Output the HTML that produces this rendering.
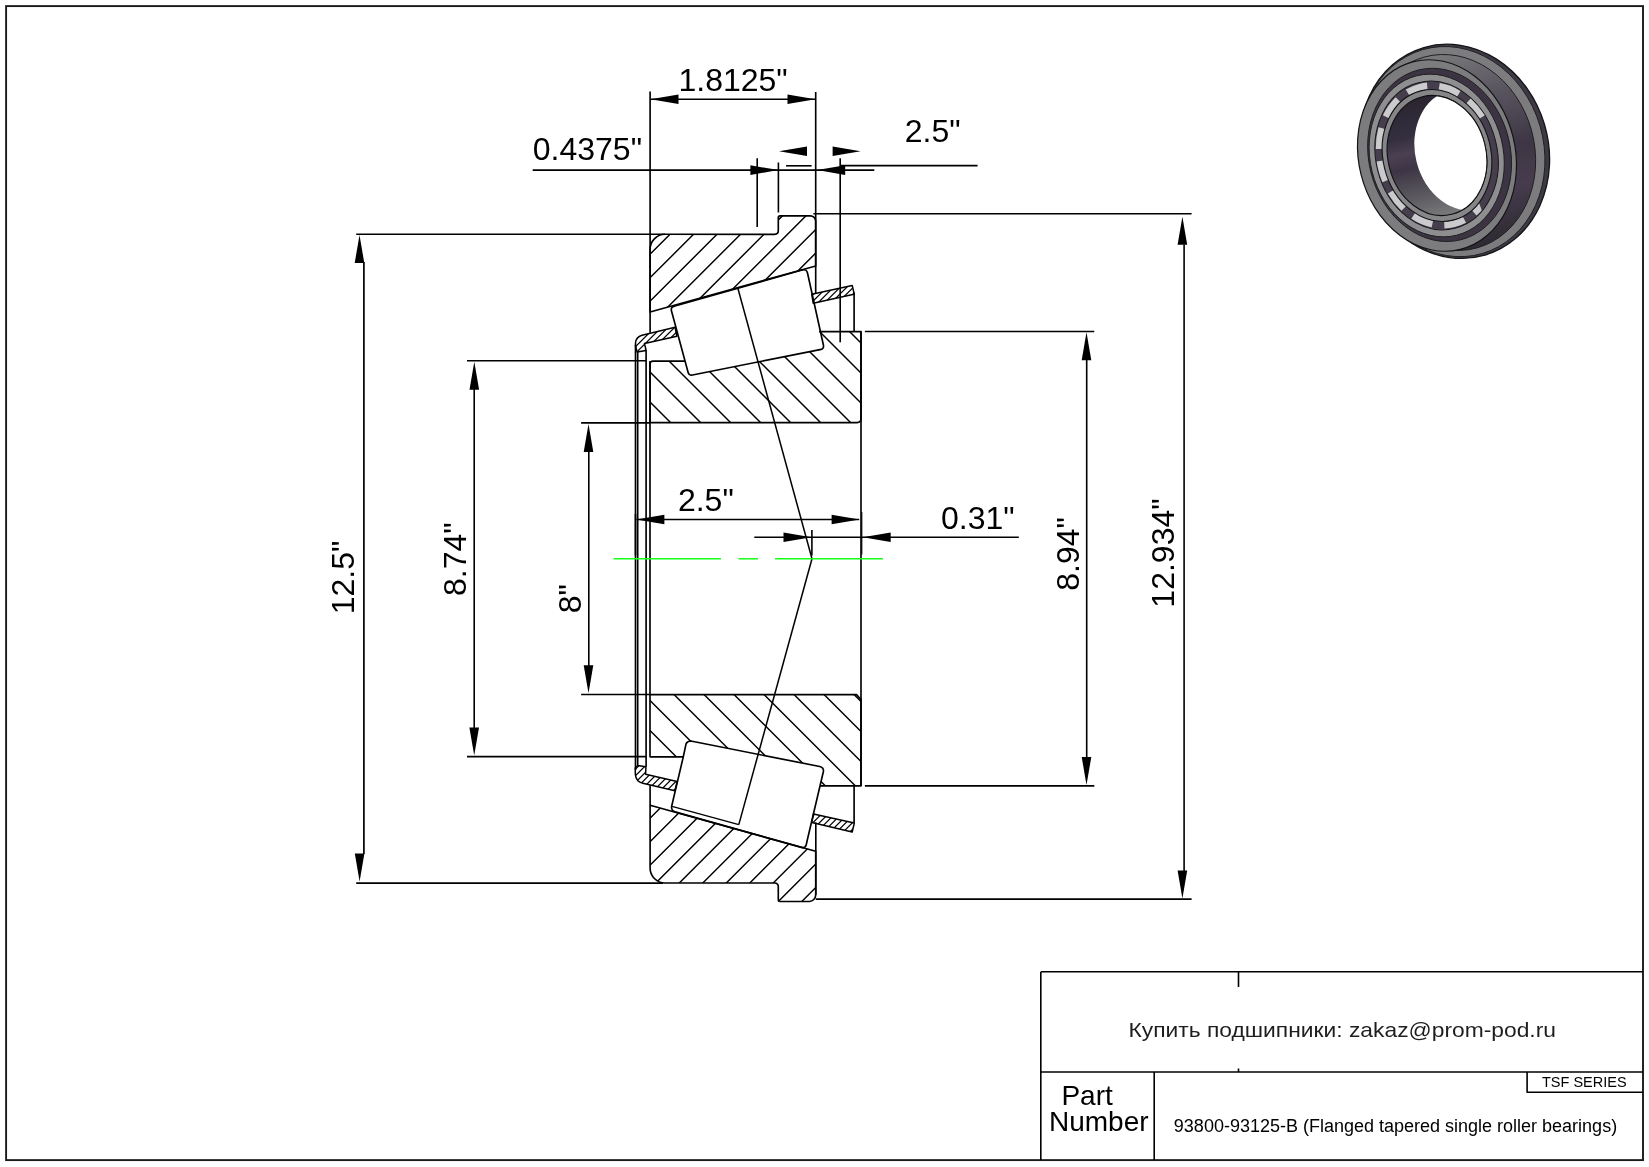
<!DOCTYPE html>
<html><head><meta charset="utf-8"><style>
html,body{margin:0;padding:0;background:#fff;}
svg{display:block;will-change:transform;}
text{font-family:"Liberation Sans",sans-serif;}
</style></head><body>
<svg width="1649" height="1167" viewBox="0 0 1649 1167">
<rect width="1649" height="1167" fill="#fff"/>
<rect x="6.1" y="6.1" width="1636.9" height="1154" fill="none" stroke="#1a1a1a" stroke-width="1.9"/>
<line x1="1041" y1="971.7" x2="1643" y2="971.7" stroke="#000" stroke-width="1.6"/>
<line x1="1040.8" y1="971.7" x2="1040.8" y2="1160" stroke="#000" stroke-width="1.6"/>
<line x1="1041" y1="1072" x2="1643" y2="1072" stroke="#000" stroke-width="1.6"/>
<line x1="1154.2" y1="1072" x2="1154.2" y2="1160" stroke="#000" stroke-width="1.6"/>
<line x1="1238.5" y1="971" x2="1238.5" y2="987" stroke="#000" stroke-width="1.6"/>
<line x1="1238.5" y1="1068.5" x2="1238.5" y2="1072" stroke="#000" stroke-width="1.6"/>
<path d="M1527.1 1072V1092.3H1643" fill="none" stroke="#000" stroke-width="1.6" stroke-linejoin="round"/>
<clipPath id="h1"><path d="M650.1 312 L650.1 249.5 A15 15 0 0 1 665 234.3 L774.5 234.3 Q778.3 234.3 778.3 230.5 L778.3 217.5 Q778.3 215.8 780 215.8 L810.3 215.8 A5.4 5.4 0 0 1 815.7 221.2 L815.7 266 Z"/></clipPath>
<path clip-path="url(#h1)" d="M537.30 320L647.30 210M560.80 320L670.80 210M584.30 320L694.30 210M607.80 320L717.80 210M631.30 320L741.30 210M654.80 320L764.80 210M678.30 320L788.30 210M701.80 320L811.80 210M725.30 320L835.30 210M748.80 320L858.80 210M772.30 320L882.30 210M795.80 320L905.80 210M819.30 320L929.30 210" stroke="#000" stroke-width="1.45" fill="none"/>
<path d="M650.1 312 L650.1 249.5 A15 15 0 0 1 665 234.3 L774.5 234.3 Q778.3 234.3 778.3 230.5 L778.3 217.5 Q778.3 215.8 780 215.8 L810.3 215.8 A5.4 5.4 0 0 1 815.7 221.2 L815.7 266 Z" fill="none" stroke="#000" stroke-width="1.65" stroke-linejoin="round"/>
<clipPath id="h2"><path d="M650.1 805.3 L650.1 867.8 A15 15 0 0 0 665 883.0 L774.5 883.0 Q778.3 883.0 778.3 886.8 L778.3 899.8 Q778.3 901.5 780 901.5 L809.4 901.5 A6.5 6.5 0 0 0 815.7 895.0 L815.7 851.3 Z"/></clipPath>
<path clip-path="url(#h2)" d="M563.30 905L668.30 800M586.80 905L691.80 800M610.30 905L715.30 800M633.80 905L738.80 800M657.30 905L762.30 800M680.80 905L785.80 800M704.30 905L809.30 800M727.80 905L832.80 800M751.30 905L856.30 800M774.80 905L879.80 800M798.30 905L903.30 800" stroke="#000" stroke-width="1.45" fill="none"/>
<path d="M650.1 805.3 L650.1 867.8 A15 15 0 0 0 665 883.0 L774.5 883.0 Q778.3 883.0 778.3 886.8 L778.3 899.8 Q778.3 901.5 780 901.5 L809.4 901.5 A6.5 6.5 0 0 0 815.7 895.0 L815.7 851.3 Z" fill="none" stroke="#000" stroke-width="1.65" stroke-linejoin="round"/>
<clipPath id="h3"><path d="M650 422.6 L650 364 Q650 361.1 653 361.1 L684.9 361.1 L688.6 375.6 L823.3 348.8 L819.2 331.6 L861 331.6 L861 418.6 Q861 422.6 857 422.6 Z"/></clipPath>
<path clip-path="url(#h3)" d="M573.00 325L673.00 425M603.00 325L703.00 425M633.00 325L733.00 425M663.00 325L763.00 425M693.00 325L793.00 425M723.00 325L823.00 425M753.00 325L853.00 425M783.00 325L883.00 425M813.00 325L913.00 425M843.00 325L943.00 425" stroke="#000" stroke-width="1.45" fill="none"/>
<path d="M684.9 361.1 L653 361.1 Q650 361.1 650 364 L650 422.6 L857 422.6 Q861 422.6 861 418.6 L861 331.6 L819.2 331.6" fill="none" stroke="#000" stroke-width="1.65" stroke-linejoin="round"/>
<clipPath id="h4"><path d="M650 694.6 L857 694.6 L861 699.5 L861 785.9 L820.1 785.9 L823.4 770.3 L819.7 766.5 L690.8 741 L686 744.1 L683.3 756.8 L650 756.8 Z"/></clipPath>
<path clip-path="url(#h4)" d="M549.50 690L649.50 790M579.50 690L679.50 790M609.50 690L709.50 790M639.50 690L739.50 790M669.50 690L769.50 790M699.50 690L799.50 790M729.50 690L829.50 790M759.50 690L859.50 790M789.50 690L889.50 790M819.50 690L919.50 790M849.50 690L949.50 790" stroke="#000" stroke-width="1.45" fill="none"/>
<path d="M683.3 756.8 L650 756.8 L650 694.6 L856.5 694.6 L861 699.5 L861 785.9 L820.1 785.9" fill="none" stroke="#000" stroke-width="1.65" stroke-linejoin="round"/>
<path d="M675 306 L802 270 Q806.5 268.8 807.5 273 L823.4 345 Q824.2 349 820 349.6 L692.5 375 Q688.8 375.8 688 372 L671.5 311 Q670.5 307 674.5 306.1 Z" fill="none" stroke="#000" stroke-width="1.65" stroke-linejoin="round"/>
<path d="M690.8 741 L819.7 766.5 Q824 767.6 823.4 771.5 L807.3 840 L806.3 844.5 Q805.3 848.2 802.3 847.6 L675 811.9 Q671.2 810.6 671.6 806.5 L683.3 756.8 L686 744.1 Q687 741 690.8 741 Z" fill="none" stroke="#000" stroke-width="1.65" stroke-linejoin="round"/>
<line x1="672" y1="806.4" x2="738.8" y2="824.6" stroke="#000" stroke-width="1.5"/>
<line x1="737.8" y1="288" x2="812" y2="558.8" stroke="#000" stroke-width="1.5"/>
<line x1="812" y1="558.8" x2="738.8" y2="824.6" stroke="#000" stroke-width="1.5"/>
<clipPath id="h5"><path d="M675.1 327.3 L642 335.3 Q636 337 635.5 343 L635.5 346 L637.1 352 L646.1 350.5 L644.5 343.5 L676.9 336.3 Z"/></clipPath>
<path clip-path="url(#h5)" d="M595.80 360L635.80 320M602.40 360L642.40 320M609.00 360L649.00 320M615.60 360L655.60 320M622.20 360L662.20 320M628.80 360L668.80 320M635.40 360L675.40 320M642.00 360L682.00 320M648.60 360L688.60 320M655.20 360L695.20 320M661.80 360L701.80 320M668.40 360L708.40 320M675.00 360L715.00 320" stroke="#000" stroke-width="1.2" fill="none"/>
<path d="M675.1 327.3 L642 335.3 Q636 337 635.5 343 L635.5 346 L637.1 352 L646.1 350.5 L644.5 343.5 L676.9 336.3 Z" fill="none" stroke="#000" stroke-width="1.5" stroke-linejoin="round"/>
<clipPath id="h6"><path d="M811.8 294.3 L852.2 285.4 L853.9 292.6 L853.9 294.3 L813.2 303.2 Z"/></clipPath>
<path clip-path="url(#h6)" d="M777.80 310L807.80 280M784.40 310L814.40 280M791.00 310L821.00 280M797.60 310L827.60 280M804.20 310L834.20 280M810.80 310L840.80 280M817.40 310L847.40 280M824.00 310L854.00 280M830.60 310L860.60 280M837.20 310L867.20 280M843.80 310L873.80 280M850.40 310L880.40 280M857.00 310L887.00 280" stroke="#000" stroke-width="1.2" fill="none"/>
<path d="M811.8 294.3 L852.2 285.4 L853.9 292.6 L853.9 294.3 L813.2 303.2 Z" fill="none" stroke="#000" stroke-width="1.5" stroke-linejoin="round"/>
<clipPath id="h7"><path d="M677.1 781.5 L645.6 774.3 L645.9 766.7 L637.7 765.4 L635.3 768 L635.3 774.3 Q636 782 642.8 783.2 L675 790.7 Z"/></clipPath>
<path clip-path="url(#h7)" d="M596.40 795L631.40 760M603.00 795L638.00 760M609.60 795L644.60 760M616.20 795L651.20 760M622.80 795L657.80 760M629.40 795L664.40 760M636.00 795L671.00 760M642.60 795L677.60 760M649.20 795L684.20 760M655.80 795L690.80 760M662.40 795L697.40 760M669.00 795L704.00 760M675.60 795L710.60 760" stroke="#000" stroke-width="1.2" fill="none"/>
<path d="M677.1 781.5 L645.6 774.3 L645.9 766.7 L637.7 765.4 L635.3 768 L635.3 774.3 Q636 782 642.8 783.2 L675 790.7 Z" fill="none" stroke="#000" stroke-width="1.5" stroke-linejoin="round"/>
<clipPath id="h8"><path d="M813.5 814.1 L854.3 823.1 L852.2 832 L811.8 822.4 Z"/></clipPath>
<path clip-path="url(#h8)" d="M780.80 835L805.80 810M787.40 835L812.40 810M794.00 835L819.00 810M800.60 835L825.60 810M807.20 835L832.20 810M813.80 835L838.80 810M820.40 835L845.40 810M827.00 835L852.00 810M833.60 835L858.60 810M840.20 835L865.20 810M846.80 835L871.80 810M853.40 835L878.40 810M860.00 835L885.00 810" stroke="#000" stroke-width="1.2" fill="none"/>
<path d="M813.5 814.1 L854.3 823.1 L852.2 832 L811.8 822.4 Z" fill="none" stroke="#000" stroke-width="1.5" stroke-linejoin="round"/>
<line x1="635.5" y1="345" x2="635.5" y2="770" stroke="#000" stroke-width="1.65"/>
<line x1="637.7" y1="352" x2="637.7" y2="765.4" stroke="#000" stroke-width="1.65"/>
<line x1="646.1" y1="350.5" x2="646.1" y2="766.7" stroke="#000" stroke-width="1.65"/>
<line x1="650.1" y1="91.5" x2="650.1" y2="332.7" stroke="#000" stroke-width="1.65"/>
<line x1="650" y1="361" x2="650" y2="694.6" stroke="#000" stroke-width="1.65"/>
<line x1="815.7" y1="92" x2="815.7" y2="293.5" stroke="#000" stroke-width="1.65"/>
<line x1="815.8" y1="822.4" x2="815.8" y2="894.8" stroke="#000" stroke-width="1.65"/>
<line x1="840.2" y1="158.3" x2="840.2" y2="342.3" stroke="#000" stroke-width="1.65"/>
<line x1="854.1" y1="292.6" x2="854.1" y2="331.6" stroke="#000" stroke-width="1.65"/>
<line x1="854.1" y1="785.9" x2="854.1" y2="823.1" stroke="#000" stroke-width="1.65"/>
<line x1="861" y1="331.6" x2="861" y2="785.9" stroke="#000" stroke-width="1.65"/>
<line x1="650.1" y1="785.2" x2="650.1" y2="805.2" stroke="#000" stroke-width="1.65"/>
<line x1="650.3" y1="99.3" x2="815.6" y2="99.3" stroke="#000" stroke-width="1.6"/>
<polygon points="650.5,99.3 678.5,94.5 678.5,104.1" fill="#000"/>
<polygon points="815.5,99.3 787.5,94.5 787.5,104.1" fill="#000"/>
<line x1="532.7" y1="170.1" x2="874.3" y2="170.1" stroke="#000" stroke-width="1.6"/>
<polygon points="778.4,170.1 750.4,165.29999999999998 750.4,174.9" fill="#000"/>
<polygon points="817.2,170.1 845.2,165.29999999999998 845.2,174.9" fill="#000"/>
<line x1="757.2" y1="158.3" x2="757.2" y2="227.1" stroke="#000" stroke-width="1.6"/>
<line x1="778.4" y1="162.5" x2="778.4" y2="212.5" stroke="#000" stroke-width="1.6"/>
<line x1="786.1" y1="165.8" x2="811.6" y2="165.8" stroke="#000" stroke-width="1.6"/>
<line x1="840.2" y1="165.6" x2="977.6" y2="165.6" stroke="#000" stroke-width="1.6"/>
<polygon points="779,151.2 807.0,146.39999999999998 807.0,156.0" fill="#000"/>
<polygon points="860.6,151.2 832.6,146.39999999999998 832.6,156.0" fill="#000"/>
<line x1="813.4" y1="213.7" x2="1191.6" y2="213.7" stroke="#000" stroke-width="1.6"/>
<line x1="815.8" y1="899.1" x2="1191.6" y2="899.1" stroke="#000" stroke-width="1.6"/>
<line x1="1184.1" y1="244.6" x2="1184.1" y2="871" stroke="#000" stroke-width="1.6"/>
<polygon points="1182.4,216.7 1177.6000000000001,244.7 1187.2,244.7" fill="#000"/>
<polygon points="1182.4,898.5 1177.6000000000001,870.5 1187.2,870.5" fill="#000"/>
<line x1="356.2" y1="234.3" x2="665" y2="234.3" stroke="#000" stroke-width="1.6"/>
<line x1="356.2" y1="883.1" x2="663" y2="883.1" stroke="#000" stroke-width="1.6"/>
<line x1="363.9" y1="262" x2="363.9" y2="854" stroke="#000" stroke-width="1.7"/>
<polygon points="359.5,235 354.7,263.0 364.3,263.0" fill="#000"/>
<polygon points="359.6,881.6 354.8,853.6 364.40000000000003,853.6" fill="#000"/>
<line x1="467" y1="360.8" x2="646" y2="360.8" stroke="#000" stroke-width="1.6"/>
<line x1="467" y1="756.6" x2="646" y2="756.6" stroke="#000" stroke-width="1.6"/>
<line x1="474.2" y1="389" x2="474.2" y2="728.5" stroke="#000" stroke-width="1.6"/>
<polygon points="474.3,361.7 469.5,389.7 479.1,389.7" fill="#000"/>
<polygon points="474.2,755.4 469.4,727.4 479.0,727.4" fill="#000"/>
<line x1="581.1" y1="422.9" x2="650" y2="422.9" stroke="#000" stroke-width="1.6"/>
<line x1="581.1" y1="694.5" x2="650" y2="694.5" stroke="#000" stroke-width="1.6"/>
<line x1="588.8" y1="451" x2="588.8" y2="666.5" stroke="#000" stroke-width="1.6"/>
<polygon points="588.5,423.9 583.7,451.9 593.3,451.9" fill="#000"/>
<polygon points="588.5,693.3 583.7,665.3 593.3,665.3" fill="#000"/>
<line x1="864.9" y1="331.5" x2="1094.3" y2="331.5" stroke="#000" stroke-width="1.6"/>
<line x1="864.9" y1="785.9" x2="1094.3" y2="785.9" stroke="#000" stroke-width="1.6"/>
<line x1="1086.7" y1="360" x2="1086.7" y2="757" stroke="#000" stroke-width="1.6"/>
<polygon points="1086.5,332.3 1081.7,360.3 1091.3,360.3" fill="#000"/>
<polygon points="1086.5,785 1081.7,757.0 1091.3,757.0" fill="#000"/>
<line x1="636.4" y1="519.5" x2="859.2" y2="519.5" stroke="#000" stroke-width="1.6"/>
<polygon points="636.4,519.5 664.4,514.7 664.4,524.3" fill="#000"/>
<polygon points="859.6,519.5 831.6,514.7 831.6,524.3" fill="#000"/>
<line x1="635.5" y1="513.7" x2="635.5" y2="555.5" stroke="#000" stroke-width="1.6"/>
<line x1="754.3" y1="537.3" x2="1018.8" y2="537.3" stroke="#000" stroke-width="1.6"/>
<polygon points="811.5,537.3 783.5,532.5 783.5,542.0999999999999" fill="#000"/>
<polygon points="862.7,537.3 890.7,532.5 890.7,542.0999999999999" fill="#000"/>
<line x1="811.9" y1="530" x2="811.9" y2="555.5" stroke="#000" stroke-width="1.6"/>
<line x1="861.8" y1="512" x2="861.8" y2="554.6" stroke="#000" stroke-width="1.1"/>
<line x1="613.6" y1="558.8" x2="721" y2="558.8" stroke="#18ff18" stroke-width="1.5"/>
<line x1="738.5" y1="558.8" x2="758" y2="558.8" stroke="#18ff18" stroke-width="1.5"/>
<line x1="775" y1="558.8" x2="882.9" y2="558.8" stroke="#18ff18" stroke-width="1.5"/>
<g font-family="&quot;Liberation Sans&quot;, sans-serif" fill="#000">
<text x="678.4625" y="91.1" font-size="32" text-anchor="start" >1.8125"</text>
<text x="532.75" y="159.8" font-size="32" text-anchor="start" >0.4375"</text>
<text x="904.690625" y="141.6" font-size="32" text-anchor="start" >2.5"</text>
<text x="677.890625" y="510.9" font-size="32" text-anchor="start" >2.5"</text>
<text x="941.05" y="529.2" font-size="32" text-anchor="start" >0.31"</text>
<text transform="translate(353.7,614.3375) rotate(-90)" font-size="32" >12.5"</text>
<text transform="translate(466.4,595.990625) rotate(-90)" font-size="32" >8.74"</text>
<text transform="translate(580.5,613.290625) rotate(-90)" font-size="32" >8"</text>
<text transform="translate(1079.3,590.690625) rotate(-90)" font-size="32" >8.94"</text>
<text transform="translate(1174.1,607.6375) rotate(-90)" font-size="32" >12.934"</text>
<text x="1061.403125" y="1104.6" font-size="28" text-anchor="start" >Part</text>
<text x="1049.003125" y="1131.2" font-size="28" text-anchor="start" >Number</text>
<text x="1173.85625" y="1131.6" font-size="18" text-anchor="start" >93800-93125-B (Flanged tapered single roller bearings)</text>
<text x="1541.97431640625" y="1086.8" font-size="14.5" text-anchor="start" >TSF SERIES</text>
<text x="1128.5" y="1036.8" font-size="19.8" textLength="427.5" lengthAdjust="spacingAndGlyphs" fill="#1e1e1e">Купить подшипники: zakaz@prom-pod.ru</text>
</g>
<defs><linearGradient id="gbore" x1="0" y1="0" x2="0" y2="1"><stop offset="0" stop-color="#2a2530"/><stop offset="0.3" stop-color="#353040"/><stop offset="0.42" stop-color="#4a4052"/><stop offset="0.55" stop-color="#3d3545"/><stop offset="0.78" stop-color="#5a585e"/><stop offset="1" stop-color="#7a7a7c"/></linearGradient><linearGradient id="gcyl" x1="0" y1="0" x2="0" y2="1"><stop offset="0" stop-color="#7a7a7c"/><stop offset="0.25" stop-color="#5a5660"/><stop offset="0.55" stop-color="#3e3644"/><stop offset="0.75" stop-color="#463c4e"/><stop offset="1" stop-color="#2e2a32"/></linearGradient><clipPath id="cbb"><ellipse cx="1464.80" cy="149.80" rx="49.73" ry="61.40" transform="rotate(-14 1464.80 149.80)" fill="none" stroke="#18181a" stroke-width="1.0" /></clipPath><clipPath id="cwin"><path d="M1340 30H1500L1488 95L1478 200L1500 260H1340Z"/></clipPath></defs>
<ellipse cx="1454.4" cy="151.3" rx="94" ry="108.2" transform="rotate(-16.4 1454.4 151.3)" fill="#3e3844" stroke="#141416" stroke-width="1.3"/>
<ellipse cx="1452.4" cy="151.6" rx="91.3" ry="106.2" transform="rotate(-16.4 1452.4 151.6)" fill="#7c7c7e" stroke="#1e1e20" stroke-width="0.9"/>
<ellipse cx="1450.5" cy="152.5" rx="84" ry="99" transform="rotate(-15.5 1450.5 152.5)" fill="url(#gcyl)" stroke="#1e1e20" stroke-width="0.9"/>
<ellipse cx="1437.00" cy="155.50" rx="78.33" ry="96.70" transform="rotate(-14 1437.00 155.50)" fill="#7c7c7e" stroke="#141416" stroke-width="1.2" />
<ellipse cx="1439.60" cy="154.90" rx="70.88" ry="87.50" transform="rotate(-14 1439.60 154.90)" fill="#3c3442" stroke="#1e1e20" stroke-width="0.9" />
<ellipse cx="1436.70" cy="155.50" rx="66.58" ry="82.20" transform="rotate(-14 1436.70 155.50)" fill="#8e8e90" stroke="#1e1e20" stroke-width="0.9" />
<ellipse cx="1436.60" cy="155.50" rx="60.75" ry="75.00" transform="rotate(-14 1436.60 155.50)" fill="#463e4c" stroke="#18181a" stroke-width="1.0" />
<g clip-path="url(#cwin)"><ellipse cx="1437.00" cy="155.50" rx="57.02" ry="70.40" transform="rotate(-14 1437.00 155.50)" fill="none" stroke="#cbcbcd" stroke-width="6.8" stroke-dasharray="21 12" stroke-dashoffset="10"/></g>
<ellipse cx="1437.00" cy="155.50" rx="53.95" ry="66.60" transform="rotate(-14 1437.00 155.50)" fill="#868688" stroke="#141416" stroke-width="1.1" />
<ellipse cx="1437.00" cy="155.50" rx="49.09" ry="60.60" transform="rotate(-14 1437.00 155.50)" fill="url(#gbore)" stroke="#101012" stroke-width="1.1" />
<g clip-path="url(#cbb)"><ellipse cx="1437.00" cy="155.50" rx="49.09" ry="60.60" transform="rotate(-14 1437.00 155.50)" fill="#ffffff" stroke="#101012" stroke-width="1.0" /></g>
</svg></body></html>
